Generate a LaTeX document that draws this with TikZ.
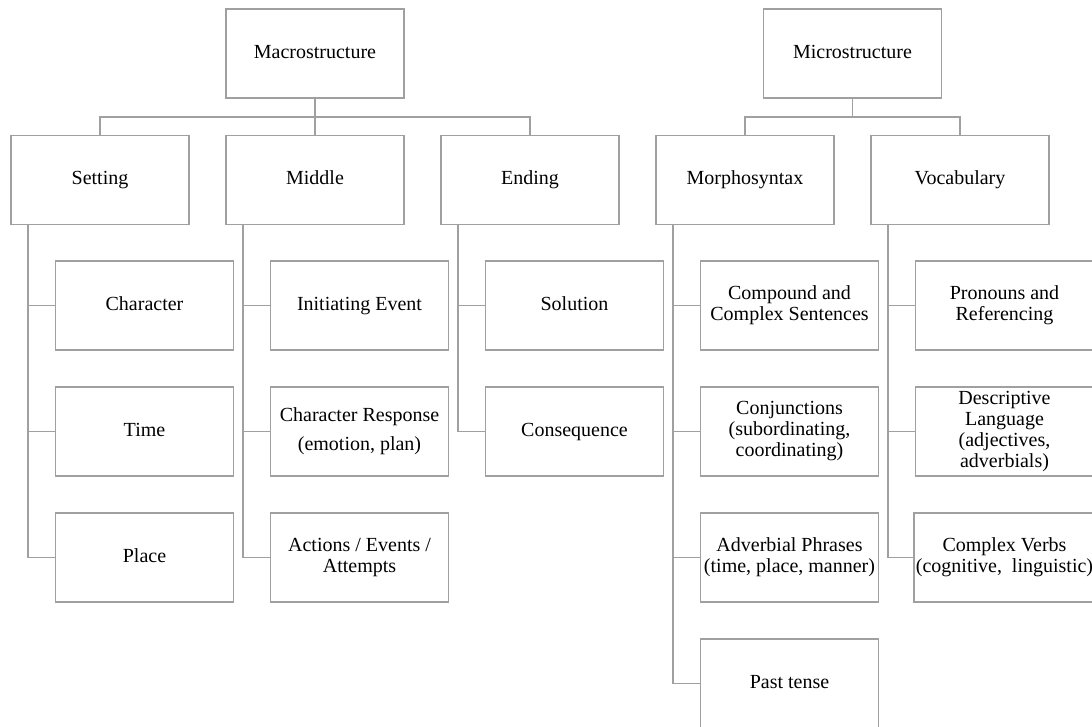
\documentclass[tikz,border=0pt]{standalone}
\usepackage{fontspec}
\setmainfont{Liberation Serif}
\definecolor{linegray}{RGB}{160,160,160}
\begin{document}
\begin{tikzpicture}[x=1pt,y=-1pt,
  box/.style={draw=linegray, line width=1.7pt, minimum width=178pt, minimum height=89pt,
    inner sep=2pt, align=center, font=\fontsize{20}{21}\selectfont, text=black},
  one/.style={box, text height=13.5pt, text depth=4.5pt},
  conn/.style={draw=linegray, line width=1.7pt}]
\useasboundingbox (0,0) rectangle (1092,726);
\clip (0,0) rectangle (1092,726);
% level 1
\node[one] (macro) at (315,53.5) {Macrostructure};
\node[one] (micro) at (852.5,53.5) {Microstructure};
% level 2
\node[one] (set) at (100,180) {Setting};
\node[one] (mid) at (315,180) {Middle};
\node[one] (end) at (530,180) {Ending};
\node[one] (morph) at (745,180) {Morphosyntax};
\node[one] (voc) at (960,180) {Vocabulary};
% level 3 - setting
\node[one] (char) at (144.5,305.5) {Character};
\node[one] (time) at (144.5,431.5) {Time};
\node[one] (place) at (144.5,557.5) {Place};
% middle
\node[one] (init) at (359.5,305.5) {Initiating Event};
\node[box] (resp) at (359.5,431.5) {Character Response\\[8pt](emotion, plan)};
\node[box] (act) at (359.5,557.5) {Actions / Events /\\Attempts};
% ending
\node[one] (sol) at (574.5,305.5) {Solution};
\node[one] (cons) at (574.5,431.5) {Consequence};
% morphosyntax
\node[box] (comp) at (789.5,305.5) {Compound and\\Complex Sentences};
\node[box] (conj) at (789.5,431.5) {Conjunctions\\(subordinating,\\coordinating)};
\node[box] (adv) at (789.5,557.5) {Adverbial Phrases\\(time, place, manner)};
\node[one] (past) at (789.5,683.5) {Past tense};
% vocabulary
\node[box] (pron) at (1004.5,305.5) {Pronouns and\\Referencing};
\node[box] (desc) at (1004.5,431.5) {Descriptive\\Language\\(adjectives,\\adverbials)};
\node[box] (verb) at (1004.5,557.5) {Complex Verbs\\(cognitive,~ linguistic)};
% buses
\coordinate (busA) at (315,116.7);
\coordinate (busB) at (852.5,116.7);
\draw[conn] (macro.south) -- (mid.north);
\draw[conn] (set.north) -- (set.north |- busA) -- (end.north |- busA) -- (end.north);
\draw[conn] (micro.south) -- (micro.south |- busB);
\draw[conn] (morph.north) -- (morph.north |- busB) -- (voc.north |- busB) -- (voc.north);
% trunks
\foreach \p/\c in {set/char, set/time, set/place, mid/init, mid/resp, mid/act,
  end/sol, end/cons, morph/comp, morph/conj, morph/adv, morph/past,
  voc/pron, voc/desc, voc/verb}
  \draw[conn] ([xshift=18pt]\p.south west) |- (\c.west);
\end{tikzpicture}
\end{document}
